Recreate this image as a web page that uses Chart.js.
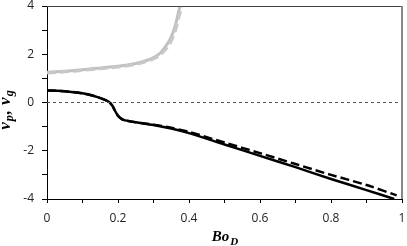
<!DOCTYPE html>
<html>
<head>
<meta charset="utf-8">
<script src="https://cdn.jsdelivr.net/npm/chart.js@4"></script>
<style>
  html, body { margin: 0; padding: 0; background: #fff; }
  #wrap { width: 407px; height: 246px; position: relative; }
</style>
</head>
<body>
<div id="wrap"><canvas id="chart"></canvas></div>
<script>
// Data
const boBlack = [0, 0.05, 0.1, 0.13, 0.16, 0.175, 0.185, 0.19, 0.2, 0.21, 0.22, 0.25, 0.3, 0.35, 0.4, 0.5, 0.6, 0.7, 0.8, 0.9, 0.978];
const vpSolid = [0.5, 0.47, 0.38, 0.28, 0.13, 0.02, -0.15, -0.3, -0.55, -0.68, -0.74, -0.82, -0.93, -1.08, -1.27, -1.74, -2.21, -2.68, -3.17, -3.63, -4.0];

const boBlackDash = [0, 0.05, 0.1, 0.13, 0.16, 0.175, 0.185, 0.19, 0.2, 0.21, 0.22, 0.25, 0.3, 0.35, 0.4, 0.5, 0.6, 0.7, 0.8, 0.9, 0.985];
const vpDashed = [0.5, 0.47, 0.38, 0.28, 0.13, 0.02, -0.15, -0.3, -0.55, -0.68, -0.74, -0.82, -0.92, -1.05, -1.22, -1.66, -2.1, -2.55, -3.0, -3.42, -3.85];

const boGrey = [0, 0.05, 0.1, 0.15, 0.2, 0.25, 0.28, 0.3, 0.32, 0.34, 0.35, 0.36, 0.365, 0.37, 0.375];
const vgSolid = [1.25, 1.3, 1.36, 1.43, 1.5, 1.62, 1.74, 1.86, 2.06, 2.45, 2.72, 3.12, 3.4, 3.72, 4.0];

const boGreyDash = [0, 0.05, 0.1, 0.15, 0.2, 0.25, 0.28, 0.3, 0.32, 0.34, 0.35, 0.36, 0.365, 0.37, 0.375, 0.38];
const vgDashed = [1.22, 1.27, 1.33, 1.4, 1.47, 1.58, 1.7, 1.81, 1.98, 2.3, 2.55, 2.9, 3.15, 3.45, 3.72, 4.0];

const zeroLine = [[0, 0], [1, 0]];

const xTicks = [0, 0.2, 0.4, 0.6, 0.8, 1];
const yTicks = [-4, -2, 0, 2, 4];

function pts(xs, ys) {
  return xs.map((x, i) => ({ x: x, y: ys[i] }));
}

// frame + axis titles (with subscripts)
const extras = {
  id: 'extras',
  afterDraw(chart) {
    const ctx = chart.ctx;
    const a = chart.chartArea;
    ctx.save();
    // top border
    ctx.strokeStyle = '#444';
    ctx.lineWidth = 1;
    ctx.beginPath();
    ctx.moveTo(a.left, a.top + 0.5);
    ctx.lineTo(a.right, a.top + 0.5);
    ctx.stroke();
    // right border
    ctx.strokeStyle = '#888';
    ctx.lineWidth = 2;
    ctx.beginPath();
    ctx.moveTo(a.right, a.top);
    ctx.lineTo(a.right, a.bottom);
    ctx.stroke();

    const serif = '"Liberation Serif", "DejaVu Serif", serif';
    ctx.fillStyle = '#000';
    ctx.textBaseline = 'alphabetic';

    // x title: Bo_D
    const big = 'bold italic 15px ' + serif;
    const small = 'bold italic 11px ' + serif;
    ctx.font = big;
    const wBo = ctx.measureText('Bo').width;
    ctx.font = small;
    const wD = ctx.measureText('D').width;
    let x0 = (a.left + a.right) / 2 - (wBo + wD) / 2;
    ctx.font = big;
    ctx.fillText('Bo', x0, 241);
    ctx.font = small;
    ctx.fillText('D', x0 + wBo + 1, 245);

    // y title: v_p, v_g (rotated)
    const yBig = 'bold italic 17px ' + serif;
    const ySmall = 'bold italic 12px ' + serif;
    const parts = [['v', yBig, 0, 0], ['p', ySmall, 3, 1], [',', yBig, 0, 1], ['v', yBig, 0, 5], ['g', ySmall, 3, 1]];
    let total = 0;
    parts.forEach(p => { ctx.font = p[1]; total += ctx.measureText(p[0]).width + p[3]; });
    ctx.translate(10, 110);
    ctx.rotate(-Math.PI / 2);
    let cx = -total / 2;
    parts.forEach(p => {
      ctx.font = p[1];
      cx += p[3];
      ctx.fillText(p[0], cx, p[2]);
      cx += ctx.measureText(p[0]).width;
    });
    ctx.restore();
  }
};

new Chart(document.getElementById('chart'), {
  type: 'line',
  data: {
    datasets: [
      {
        data: zeroLine.map(p => ({ x: p[0], y: p[1] })),
        borderColor: '#555',
        borderWidth: 1,
        borderDash: [3, 3],
        pointRadius: 0
      },
      {
        data: pts(boGreyDash, vgDashed),
        borderColor: '#c8c8c8',
        borderWidth: 3,
        borderDash: [9, 4],
        pointRadius: 0,
        tension: 0.3
      },
      {
        data: pts(boGrey, vgSolid),
        borderColor: '#c0c0c0',
        borderWidth: 3,
        pointRadius: 0,
        tension: 0.3
      },
      {
        data: pts(boBlackDash, vpDashed),
        borderColor: '#000',
        borderWidth: 2.5,
        borderDash: [9, 4],
        pointRadius: 0,
        tension: 0.3
      },
      {
        data: pts(boBlack, vpSolid),
        borderColor: '#000',
        borderWidth: 2.5,
        pointRadius: 0,
        tension: 0.3
      }
    ]
  },
  options: {
    responsive: true,
    maintainAspectRatio: false,
    animation: false,
    layout: { padding: { top: 6, right: 5, left: 0, bottom: 0 } },
    plugins: { legend: { display: false }, tooltip: { enabled: false } },
    scales: {
      x: {
        type: 'linear',
        min: 0,
        max: 1,
        afterFit(scale) {
          scale.height = 47;
          scale.paddingLeft = 0;
          scale.paddingRight = 0;
        },
        afterBuildTicks(scale) {
          scale.ticks = [];
          for (let i = 0; i <= 10; i++) scale.ticks.push({ value: i / 10 });
        },
        grid: { drawOnChartArea: false, tickLength: 4, color: '#000' },
        border: { color: '#000', width: 1 },
        ticks: {
          autoSkip: false,
          maxRotation: 0,
          padding: 8,
          color: '#222',
          font: { family: '"Open Sans", sans-serif', size: 12 },
          callback(v) {
            const r = Math.round(v * 10) / 10;
            return xTicks.includes(r) ? String(r) : '';
          }
        }
      },
      y: {
        type: 'linear',
        min: -4,
        max: 4,
        afterFit(scale) {
          scale.width = 47;
          scale.paddingTop = 0;
          scale.paddingBottom = 0;
        },
        afterBuildTicks(scale) {
          scale.ticks = [];
          for (let i = -4; i <= 4; i++) scale.ticks.push({ value: i });
        },
        grid: { drawOnChartArea: false, tickLength: 5, color: '#000' },
        border: { color: '#000', width: 1 },
        ticks: {
          autoSkip: false,
          padding: 8,
          color: '#222',
          font: { family: '"Open Sans", sans-serif', size: 12 },
          callback(v) {
            return yTicks.includes(v) ? String(v) : '';
          }
        }
      }
    }
  },
  plugins: [extras]
});
</script>
</body>
</html>
